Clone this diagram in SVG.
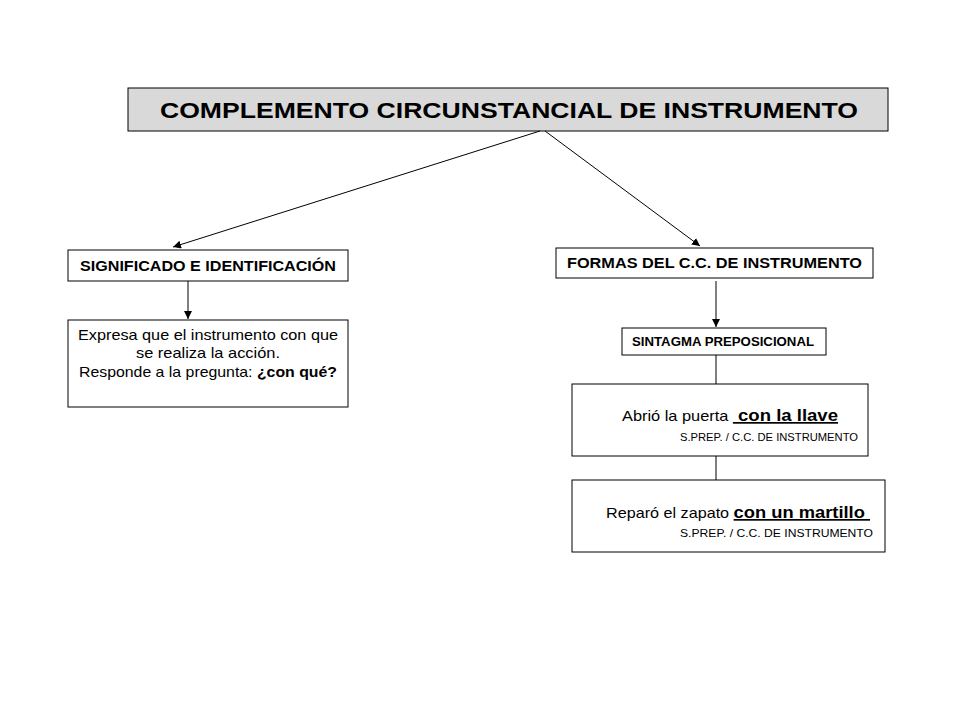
<svg xmlns="http://www.w3.org/2000/svg" width="960" height="720" viewBox="0 0 960 720">
<style>
text{font-family:"Liberation Sans",Arial,sans-serif;fill:#000}
.box{fill:#fff;stroke:#000;stroke-width:1}
.b{font-weight:bold}
.c line{stroke:#000;stroke-width:1}
</style>
<defs><marker id="a" viewBox="0 0 10 10" refX="10" refY="5" markerWidth="8" markerHeight="8" orient="auto"><path d="M0,0L10,5L0,10z"/></marker></defs>
<rect width="960" height="720" fill="#fff"/>
<g id="title"><rect x="128" y="88" width="760" height="43" fill="#d9d9d9" stroke="#000"/><text x="160" y="118" font-size="22" class="b" textLength="698" lengthAdjust="spacingAndGlyphs">COMPLEMENTO CIRCUNSTANCIAL DE INSTRUMENTO</text></g>
<g id="sig"><rect class="box" x="68" y="250" width="280" height="31"/><text x="80" y="271" font-size="14" class="b" textLength="256" lengthAdjust="spacingAndGlyphs">SIGNIFICADO E IDENTIFICACIÓN</text></g>
<g id="expr"><rect class="box" x="68" y="320" width="280" height="87"/><text font-size="15"><tspan x="78" y="340" textLength="260" lengthAdjust="spacingAndGlyphs">Expresa que el instrumento con que</tspan><tspan x="136" y="358" textLength="144" lengthAdjust="spacingAndGlyphs">se realiza la acción.</tspan></text><text x="79" y="377" font-size="15" textLength="258" lengthAdjust="spacingAndGlyphs">Responde a la pregunta: <tspan class="b">¿con qué?</tspan></text></g>
<g id="formas"><rect class="box" x="556" y="248" width="317" height="30"/><text x="567" y="268" font-size="14" class="b" textLength="295" lengthAdjust="spacingAndGlyphs">FORMAS DEL C.C. DE INSTRUMENTO</text></g>
<g id="sintagma"><rect class="box" x="622" y="328" width="204" height="27"/><text x="632" y="346" font-size="12" class="b" textLength="182" lengthAdjust="spacingAndGlyphs">SINTAGMA PREPOSICIONAL</text></g>
<g id="ej1"><rect class="box" x="572" y="384" width="296" height="72"/><text x="622" y="421" font-size="15" textLength="216" lengthAdjust="spacingAndGlyphs">Abrió la puerta <tspan class="b" font-size="17" text-decoration="underline" xml:space="preserve"> con la llave</tspan></text><text x="680" y="441" font-size="11" textLength="178" lengthAdjust="spacingAndGlyphs">S.PREP.  / C.C. DE INSTRUMENTO</text></g>
<g id="ej2"><rect class="box" x="572" y="480" width="313" height="72"/><text x="606" y="518" font-size="15" textLength="264" lengthAdjust="spacingAndGlyphs" xml:space="preserve">Reparó el zapato <tspan class="b" font-size="17" text-decoration="underline">con un martillo </tspan></text><text x="680" y="537" font-size="11" textLength="193" lengthAdjust="spacingAndGlyphs">S.PREP.  / C.C. DE INSTRUMENTO</text></g>
<g id="connectors" class="c">
<line x1="540" y1="131" x2="173" y2="247" marker-end="url(#a)"/>
<line x1="545" y1="131" x2="700" y2="246" marker-end="url(#a)"/>
<line x1="188" y1="281" x2="188" y2="319" marker-end="url(#a)"/>
<line x1="716" y1="281" x2="716" y2="327" marker-end="url(#a)"/>
<line x1="716" y1="355" x2="716" y2="384"/>
<line x1="716" y1="456" x2="716" y2="480"/>
</g>
</svg>
